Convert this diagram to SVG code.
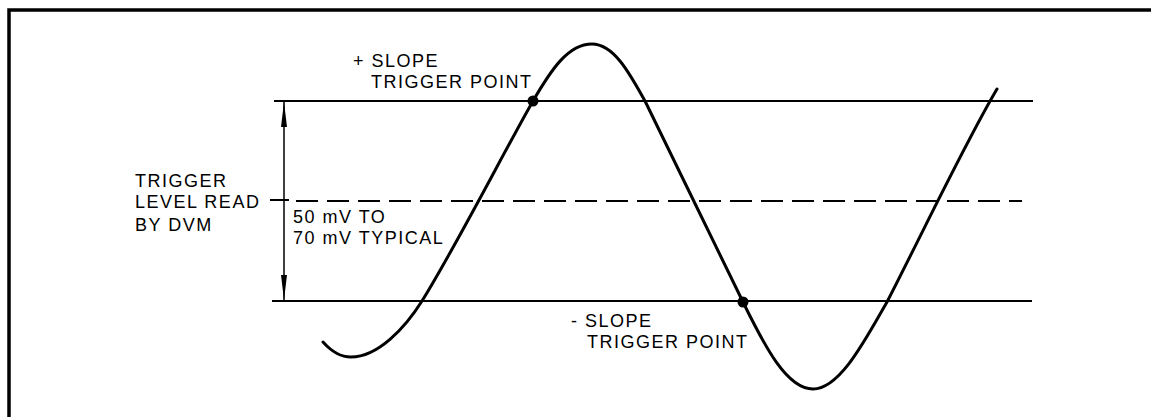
<svg xmlns="http://www.w3.org/2000/svg" width="1151" height="417" viewBox="0 0 1151 417">
<style>
  .lbl { font-family: "Liberation Sans", Arial, sans-serif; font-size: 18px; letter-spacing: 1.5px; fill: #000; }
  .ln { stroke: #000; stroke-width: 2; fill: none; }
  .dash { stroke: #000; stroke-width: 2; fill: none; stroke-dasharray: 22 9; }
  .wave { stroke: #000; stroke-width: 3; fill: none; stroke-linecap: round; stroke-linejoin: round; }
  .frame { stroke: #000; stroke-width: 3.5; fill: none; }
</style>
<defs>
  <marker id="arr" viewBox="0 0 25 6" refX="25" refY="3" markerWidth="25" markerHeight="6" markerUnits="userSpaceOnUse" orient="auto-start-reverse">
    <path d="M0,0 L25,3 L0,6 Z" fill="#000"/>
  </marker>
</defs>
<rect width="1151" height="417" fill="#fff"/>
<g id="frame">
  <path class="frame" d="M9,417 L9,10 L1151,10"/>
</g>
<g id="levels">
  <line id="upper-level" class="ln" x1="274" y1="101" x2="1033" y2="101"/>
  <line id="lower-level" class="ln" x1="272" y1="301" x2="1032" y2="301"/>
  <line id="dvm-tick" class="ln" x1="270" y1="200" x2="289" y2="200"/>
  <line id="dvm-level" class="dash" x1="296" y1="201" x2="1022" y2="201"/>
</g>
<g id="waveform">
  <path class="wave" d="M323,342 C333,353 341,357 351,357 C378,357 405,328 422,301 C455,248 505,150 533,101 C551,70 568,44 592,44 C614,44 630,74 645,101 C678,168 710,235 743,302 C765,347 787,389 813,389 C840,389 865,340 887,302 C920,238 965,143 997,89"/>
  <circle id="plus-point" cx="533" cy="101" r="5.5" fill="#000"/>
  <circle id="minus-point" cx="743" cy="302" r="5.5" fill="#000"/>
</g>
<g id="connectors">
  <line class="ln" style="stroke-width:1.5" x1="284" y1="102" x2="284" y2="300" marker-start="url(#arr)" marker-end="url(#arr)"/>
</g>
<g id="label-plus-slope">
  <text class="lbl" x="353" y="67">+ SLOPE</text>
  <text class="lbl" x="371" y="88">TRIGGER POINT</text>
</g>
<g id="label-trigger-level">
  <text class="lbl" x="135" y="187">TRIGGER</text>
  <text class="lbl" x="135" y="208">LEVEL READ</text>
  <text class="lbl" x="135" y="231">BY DVM</text>
</g>
<g id="label-range">
  <text class="lbl" x="293" y="223">50 mV TO</text>
  <text class="lbl" x="293" y="244">70 mV TYPICAL</text>
</g>
<g id="label-minus-slope">
  <text class="lbl" x="571" y="327">- SLOPE</text>
  <text class="lbl" x="587" y="348">TRIGGER POINT</text>
</g>
</svg>
